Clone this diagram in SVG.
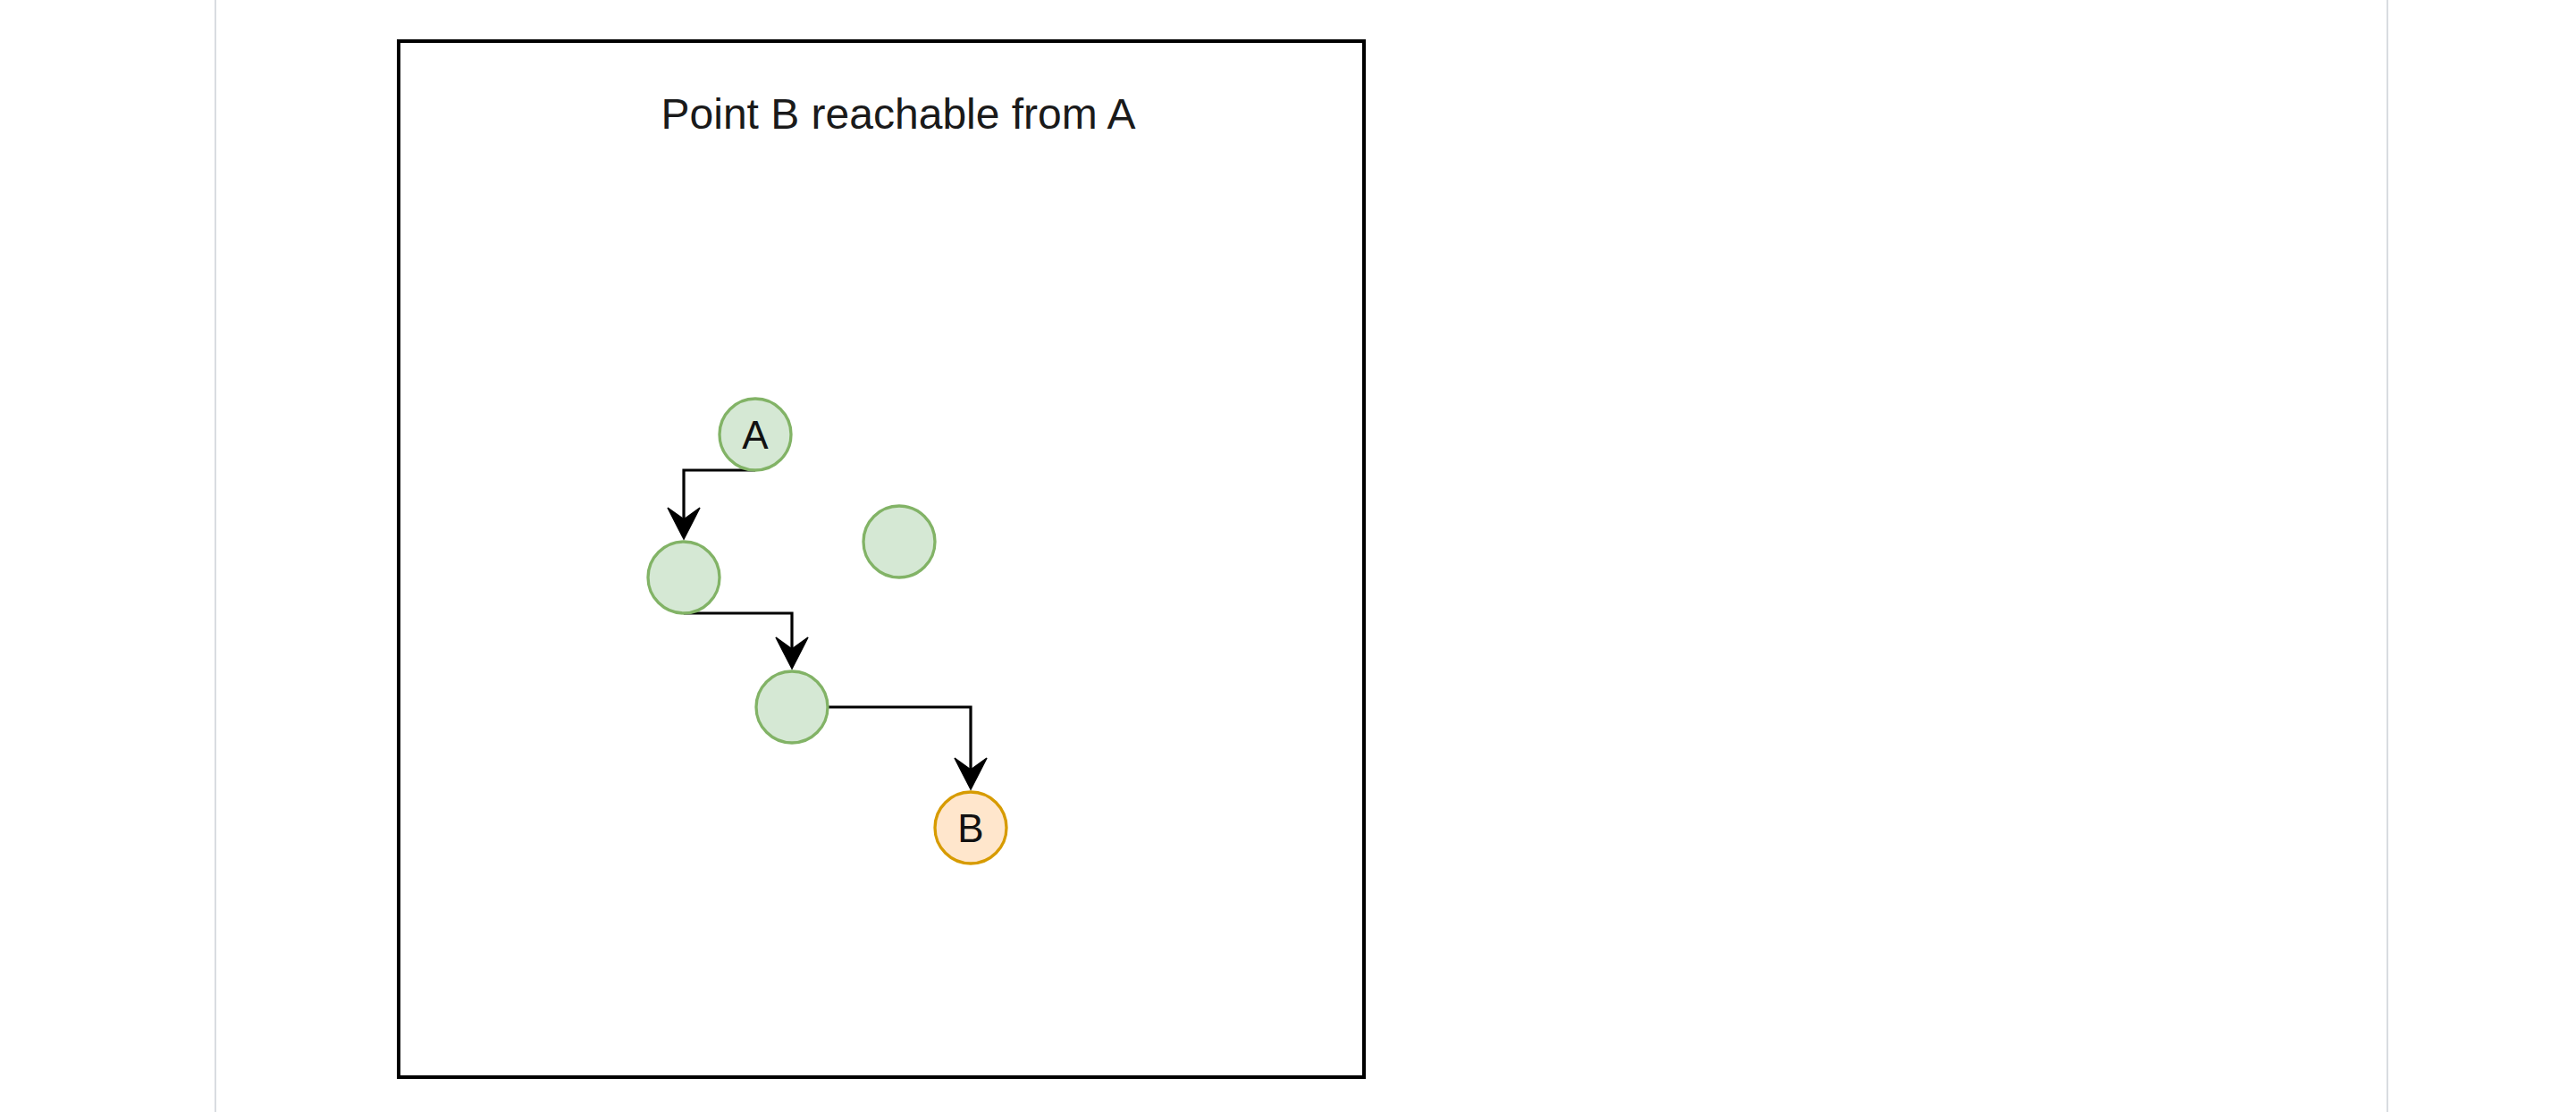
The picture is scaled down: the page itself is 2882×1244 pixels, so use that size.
<svg xmlns="http://www.w3.org/2000/svg" width="2882" height="1244" viewBox="0 0 2882 1244">
  <style>
    .page { stroke: #d9dce1; stroke-width: 2; }
    .frame { fill: #ffffff; stroke: #000000; stroke-width: 4; }
    .title { font-family: "Liberation Sans", Arial, sans-serif; font-size: 48px; fill: #1a1a1a; text-anchor: middle; }
    .green { fill: #d5e8d4; stroke: #82b366; stroke-width: 3.3; }
    .orange { fill: #ffe6cc; stroke: #d79b00; stroke-width: 3.3; }
    .label { font-family: "Liberation Sans", Arial, sans-serif; font-size: 44px; fill: #111111; text-anchor: middle; }
    .edge { fill: none; stroke: #000000; stroke-width: 3.2; }
    .head { fill: #000000; stroke: #000000; stroke-width: 1.5; stroke-linejoin: miter; }
  </style>
  <rect x="0" y="0" width="2882" height="1244" fill="#ffffff"/>
  <line class="page" x1="241" y1="0" x2="241" y2="1244"/>
  <line class="page" x1="2671" y1="0" x2="2671" y2="1244"/>

  <g id="frame">
    <rect class="frame" x="446" y="46" width="1080" height="1159"/>
    <text class="title" x="1005" y="144">Point B reachable from A</text>
  </g>

  <g id="connectors">
    <g id="edge-a-n2">
      <path class="edge" d="M 845 526 H 765 V 584"/>
      <path class="head" d="M 765 603 L 747 568 L 765 581 L 783 568 Z"/>
    </g>
    <g id="edge-n2-n3">
      <path class="edge" d="M 765 686 H 886 V 728"/>
      <path class="head" d="M 886 748 L 868 713 L 886 726 L 904 713 Z"/>
    </g>
    <g id="edge-n3-b">
      <path class="edge" d="M 926 791 H 1086 V 864"/>
      <path class="head" d="M 1086 883 L 1068 848 L 1086 861 L 1104 848 Z"/>
    </g>
  </g>

  <g id="node-a">
    <circle class="green" cx="845" cy="486" r="40"/>
    <text class="label" x="845" y="502">A</text>
  </g>
  <g id="node-2">
    <circle class="green" cx="765" cy="646" r="40"/>
  </g>
  <g id="node-isolated">
    <circle class="green" cx="1006" cy="606" r="40"/>
  </g>
  <g id="node-3">
    <circle class="green" cx="886" cy="791" r="40"/>
  </g>
  <g id="node-b">
    <circle class="orange" cx="1086" cy="926" r="40"/>
    <text class="label" x="1086" y="942">B</text>
  </g>
</svg>
